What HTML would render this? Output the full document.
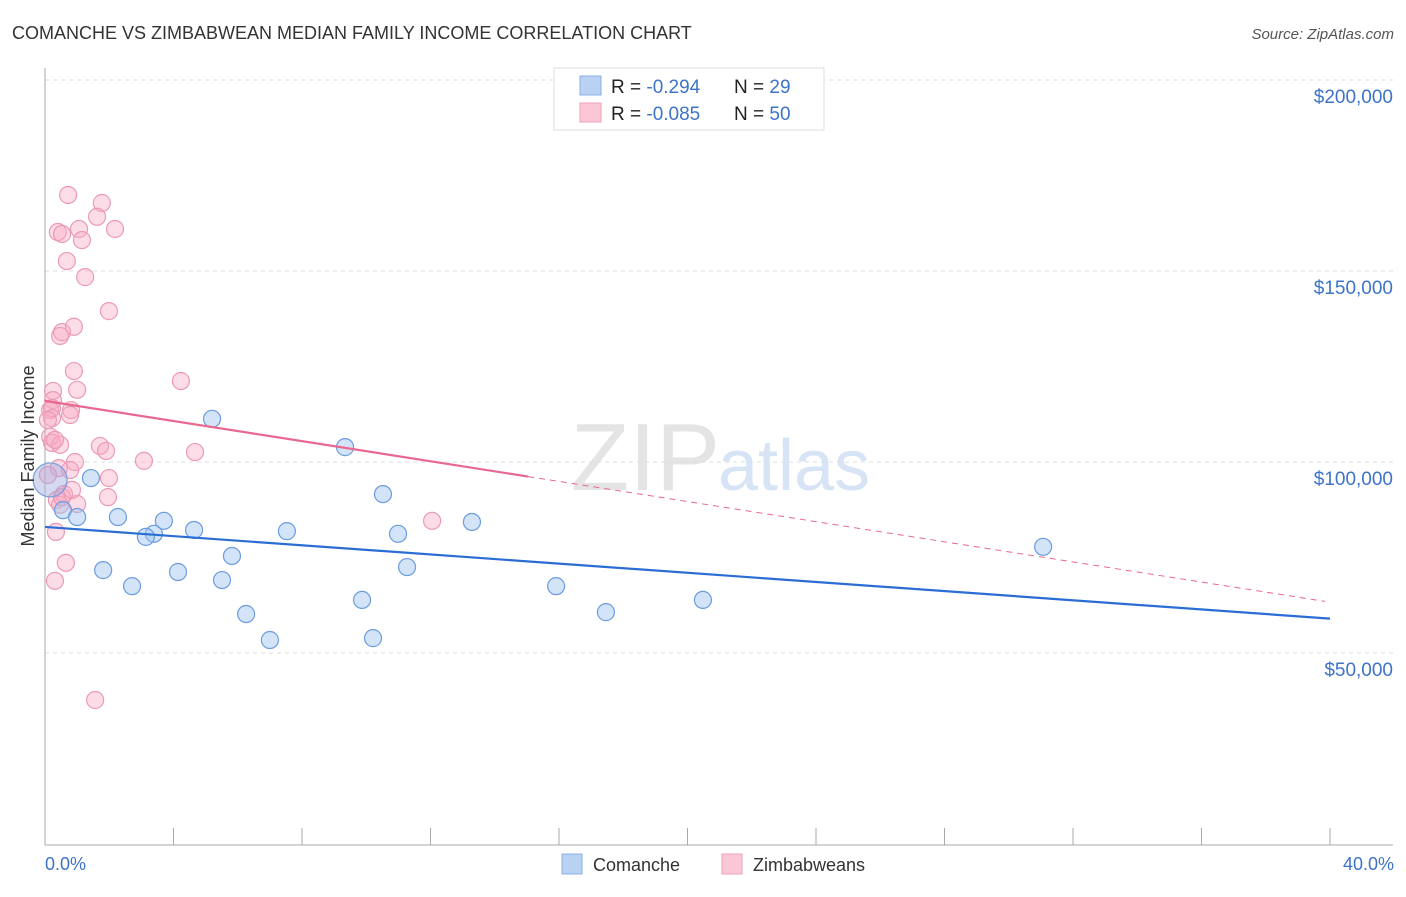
<!DOCTYPE html>
<html><head><meta charset="utf-8"><style>
body{margin:0;background:#fff;font-family:"Liberation Sans",sans-serif;}
svg text{font-family:"Liberation Sans",sans-serif;}
</style></head><body>
<svg width="1406" height="892">
<text x="12" y="39" font-size="18" fill="#333">COMANCHE VS ZIMBABWEAN MEDIAN FAMILY INCOME CORRELATION CHART</text>
<text x="1394" y="39" font-size="15" fill="#555" font-style="italic" text-anchor="end">Source: ZipAtlas.com</text>
<text x="720" y="490" font-size="96" fill="#e4e4e4" text-anchor="end" font-family="Liberation Serif">ZIP</text>
<text x="718" y="490" font-size="72" fill="#d6e4f5">atlas</text>
<g id="grid"></g>
<g id="axes"></g>
<g id="marks"></g>
<text transform="translate(34,456) rotate(-90)" font-size="18" fill="#333" text-anchor="middle">Median Family Income</text>
<text x="45" y="870" font-size="18" fill="#3d73c9">0.0%</text>
<text x="1394" y="870" font-size="18" fill="#3d73c9" text-anchor="end">40.0%</text>
<g>
<rect x="554" y="68" width="270" height="62" fill="#fff" stroke="#ddd"/>
<rect x="580" y="76" width="21" height="19" fill="#b9d2f3" stroke="#8ab0e6"/>
<rect x="580" y="103" width="21" height="19" fill="#fbc7d6" stroke="#f0a0b8"/>
<text x="611" y="93" font-size="19" fill="#222">R = <tspan fill="#3d73c9">-0.294</tspan><tspan x="734">N = </tspan><tspan fill="#3d73c9">29</tspan></text>
<text x="611" y="120" font-size="19" fill="#222">R = <tspan fill="#3d73c9">-0.085</tspan><tspan x="734">N = </tspan><tspan fill="#3d73c9">50</tspan></text>
</g>
<g>
<rect x="562" y="854" width="20" height="20" fill="#b9d2f3" stroke="#8ab0e6"/>
<text x="593" y="871" font-size="18" fill="#333">Comanche</text>
<rect x="722" y="854" width="20" height="20" fill="#fbc7d6" stroke="#f0a0b8"/>
<text x="753" y="871" font-size="18" fill="#333">Zimbabweans</text>
</g>
</svg>
<script>
const yTicks=[50000,100000,150000,200000];
const yTickLabels=["$50,000","$100,000","$150,000","$200,000"];
const comancheX=[5.2,9.34,1.43,10.52,0.56,1.0,2.27,3.70,13.29,4.64,7.53,3.39,3.14,10.99,31.07,5.82,1.81,11.27,4.14,5.51,2.71,15.91,9.87,20.48,6.26,17.46,7.0,10.21];
const comancheY=[111.3,103.9,95.8,91.6,87.4,85.6,85.6,84.6,84.3,82.2,81.9,81.2,80.4,81.2,77.8,75.4,71.7,72.5,71.2,69.1,67.5,67.5,63.9,63.9,60.2,60.7,53.4,53.9];
const zimX=[0.72,1.77,1.62,0.40,0.53,1.06,2.18,1.15,0.68,1.25,1.99,0.47,0.53,0.90,4.23,0.90,1.0,0.25,0.25,0.16,0.81,0.78,0.16,0.22,0.47,1.71,1.90,4.67,3.08,0.93,0.78,0.43,1.99,1.96,0.59,0.37,1.0,12.05,0.34,0.65,0.31,1.56,0.22,0.31,0.09,0.47,0.22,0.53,0.09,0.84];
const zimY=[169.9,167.8,164.2,160.2,159.7,161.0,161.0,158.1,152.6,148.4,139.5,133.0,134.0,135.4,121.2,123.8,118.9,118.6,116.2,113.6,113.6,112.3,106.6,105.0,104.5,104.2,102.9,102.6,100.3,100.0,97.9,98.4,95.8,90.8,91.6,90.1,89.0,84.6,81.7,73.6,68.9,37.7,114.1,105.8,96.6,88.8,111.5,90.8,111.0,92.7];
const bigX=[0.16], bigY=[95.3];
const comancheTrend=[83.0,59.0]; // at 0% and 40%
const zimTrend=[116.0,63.5]; // at 0% and 39.85%
const zimSolidEnd=15.04;
const NS="http://www.w3.org/2000/svg";
const X=v=>45+v/40*1285;
const Y=v=>844-v/50000*191;
const Yk=v=>Y(v*1000);
function mk(t,a,p){const e=document.createElementNS(NS,t);for(const k in a)e.setAttribute(k,a[k]);p.appendChild(e);return e;}
const grid=document.getElementById('grid'),axes=document.getElementById('axes'),marks=document.getElementById('marks');
yTicks.forEach((t,i)=>{
 const l=mk('line',{x1:45,x2:1393,y1:Y(t),y2:Y(t),stroke:'#ddd','stroke-dasharray':'4,4'},grid);
 
 
 const tx=mk('text',{x:1393,y:Y(t)+23,'font-size':19,fill:'#3d73c9','text-anchor':'end'},grid);
 tx.textContent=yTickLabels[i];
 
 
});
const ax=mk('line',{x1:45,x2:1393,y1:845,y2:845,stroke:'#aaa'},axes);


const ay=mk('line',{x1:45,x2:45,y1:68,y2:845,stroke:'#aaa'},axes);


for(let i=0;i<=10;i++){const t=mk('line',{x1:X(i*4),x2:X(i*4),y1:828,y2:845,stroke:'#aaa'},axes);
 
 }
function pts(xs,ys,fill,stroke,name,r){xs.forEach((x,i)=>{const c=mk('circle',{cx:X(x),cy:Yk(ys[i]),r:r,fill:fill,stroke:stroke,'stroke-width':1.2},marks);
 
 });}
pts(zimX,zimY,'rgba(248,170,195,0.4)','#eb9ab5','zimbabwean-point',8.5);
pts(comancheX,comancheY,'rgba(160,196,240,0.45)','#6a9ce0','comanche-point',8.5);
pts(bigX,bigY,'rgba(160,170,220,0.45)','#7b9de0','comanche-point-large',17);
const zs=zimTrend[0]+(zimTrend[1]-zimTrend[0])*zimSolidEnd/39.85;
const l1=mk('line',{x1:X(0),y1:Yk(zimTrend[0]),x2:X(zimSolidEnd),y2:Yk(zs),stroke:'#e8688f','stroke-width':2.2},marks);


const l2=mk('line',{x1:X(zimSolidEnd),y1:Yk(zs),x2:X(39.85),y2:Yk(zimTrend[1]),stroke:'#e8688f','stroke-width':1,'stroke-dasharray':'6,5'},marks);


const l3=mk('line',{x1:X(0),y1:Yk(comancheTrend[0]),x2:X(40),y2:Yk(comancheTrend[1]),stroke:'#2a6dd4','stroke-width':2.2},marks);


</script>
</body></html>
